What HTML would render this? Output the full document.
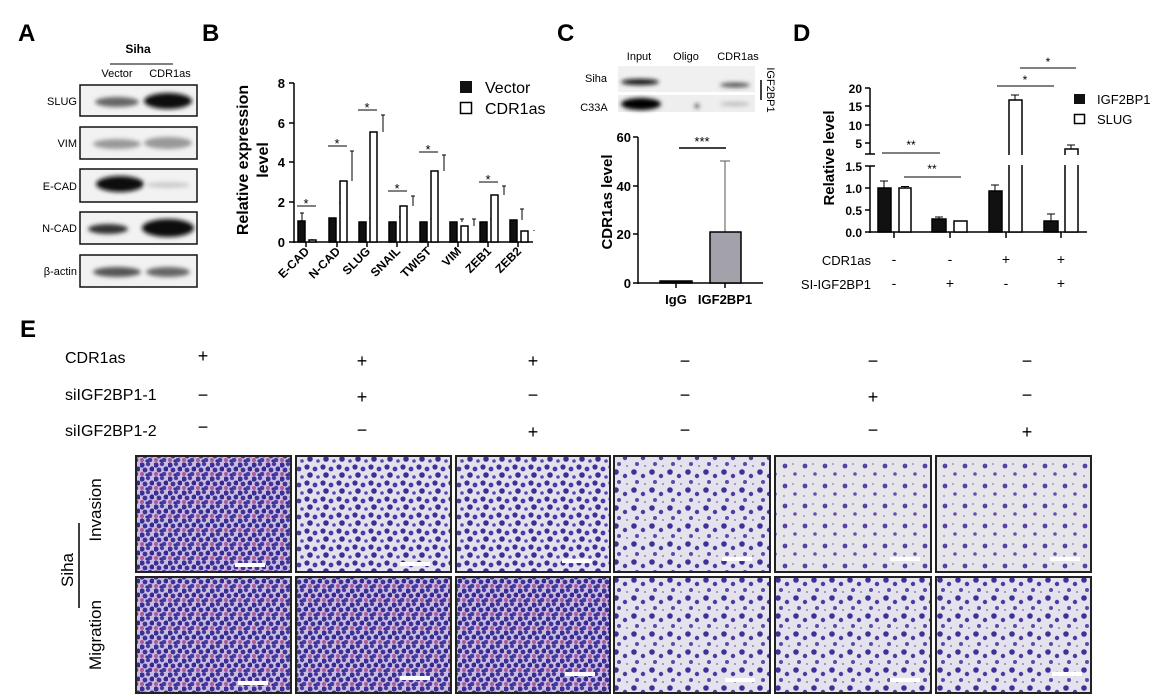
<!DOCTYPE html>
<html><head><meta charset="utf-8"><style>
html,body{margin:0;padding:0;background:#fff;}
svg{display:block;font-family:"Liberation Sans",Arial,sans-serif;}
.b{font-weight:bold;}
</style></head><body>
<svg width="1154" height="700" viewBox="0 0 1154 700" xmlns="http://www.w3.org/2000/svg">
<defs>
<filter id="bl" x="-20%" y="-50%" width="140%" height="200%"><feGaussianBlur stdDeviation="2"/></filter>
<pattern id="pd" width="14" height="14" patternUnits="userSpaceOnUse">
<rect width="14" height="14" fill="#cbbde0"/>
<circle cx="2" cy="3" r="2.6" fill="#3a2f95"/><circle cx="8" cy="2" r="2.2" fill="#4a3aa0"/>
<circle cx="12" cy="7" r="2.5" fill="#342a90"/><circle cx="5" cy="8" r="2.4" fill="#3f3398"/>
<circle cx="10" cy="12" r="2.3" fill="#4b3ca3"/><circle cx="2" cy="12" r="2" fill="#b05a9a"/>
<circle cx="7" cy="13" r="1.6" fill="#372d92"/>
</pattern>
<pattern id="pm" width="16" height="16" patternUnits="userSpaceOnUse">
<rect width="16" height="16" fill="#e4e0ee"/>
<circle cx="3" cy="3" r="2.6" fill="#3c3196"/><circle cx="11" cy="5" r="2.4" fill="#4a3ca2"/>
<circle cx="6" cy="11" r="2.8" fill="#3a2f95"/><circle cx="14" cy="13" r="1.8" fill="#5b4aab"/>
</pattern>
<pattern id="ps" width="20" height="20" patternUnits="userSpaceOnUse">
<rect width="20" height="20" fill="#e6e6ea"/>
<circle cx="5" cy="6" r="2.4" fill="#5a40a6"/><circle cx="15" cy="14" r="1.8" fill="#6a4db0"/>
<circle cx="13" cy="4" r="0.9" fill="#8a78bb"/><circle cx="4" cy="16" r="0.9" fill="#8a78bb"/>
</pattern>
<pattern id="pms" width="18" height="18" patternUnits="userSpaceOnUse">
<rect width="18" height="18" fill="#e4e2ec"/>
<circle cx="4" cy="4" r="2.8" fill="#3e3299"/><circle cx="13" cy="8" r="2.2" fill="#4a3ca2"/>
<circle cx="7" cy="14" r="2" fill="#5b4aab"/><circle cx="15" cy="16" r="1" fill="#b070a8"/>
</pattern>
</defs>

<!-- Panel A -->
<text x="18" y="41" font-size="24" class="b">A</text>
<text x="138" y="53" font-size="12" class="b" text-anchor="middle">Siha</text>
<line x1="110" y1="64" x2="173" y2="64" stroke="#000" stroke-width="1"/>
<text x="117" y="77" font-size="11" text-anchor="middle">Vector</text>
<text x="170" y="77" font-size="11" text-anchor="middle">CDR1as</text>
<g font-size="11" text-anchor="end">
<text x="77" y="105">SLUG</text><text x="77" y="147">VIM</text><text x="77" y="190">E-CAD</text><text x="77" y="232">N-CAD</text><text x="77" y="275">β-actin</text>
</g>
<g stroke="#111" stroke-width="1.5" fill="#f2f2f2">
<rect x="80" y="85" width="117" height="31"/><rect x="80" y="127" width="117" height="32"/>
<rect x="80" y="169" width="117" height="33"/><rect x="80" y="212" width="117" height="32"/><rect x="80" y="255" width="117" height="32"/>
</g>
<g filter="url(#bl)">
<ellipse cx="117" cy="102" rx="22" ry="5" fill="#666"/><ellipse cx="168" cy="101" rx="24" ry="8" fill="#111"/>
<ellipse cx="117" cy="144" rx="24" ry="5" fill="#999"/><ellipse cx="168" cy="143" rx="24" ry="6" fill="#999"/>
<ellipse cx="120" cy="184" rx="24" ry="8" fill="#111"/><ellipse cx="168" cy="185" rx="22" ry="3" fill="#ccc"/>
<ellipse cx="108" cy="229" rx="20" ry="5" fill="#333"/><ellipse cx="168" cy="228" rx="26" ry="9" fill="#111"/>
<ellipse cx="117" cy="272" rx="24" ry="5" fill="#555"/><ellipse cx="168" cy="272" rx="22" ry="5" fill="#666"/>
</g>

<!-- Panel B -->
<text x="202" y="41" font-size="24" class="b">B</text>
<g font-size="16" class="b" text-anchor="middle">
<text transform="translate(248,160) rotate(-90)">Relative expression</text>
<text transform="translate(268,160) rotate(-90)">level</text>
</g>
<g stroke="#000" stroke-width="1.5" fill="none">
<line x1="294" y1="83" x2="294" y2="243"/><line x1="294" y1="242" x2="533" y2="242"/>
<line x1="289" y1="83" x2="294" y2="83"/><line x1="289" y1="123" x2="294" y2="123"/><line x1="289" y1="162" x2="294" y2="162"/><line x1="289" y1="202" x2="294" y2="202"/><line x1="289" y1="242" x2="294" y2="242"/>
<line x1="306" y1="242" x2="306" y2="247"/><line x1="337" y1="242" x2="337" y2="247"/><line x1="367" y1="242" x2="367" y2="247"/><line x1="397" y1="242" x2="397" y2="247"/><line x1="428" y1="242" x2="428" y2="247"/><line x1="458" y1="242" x2="458" y2="247"/><line x1="488" y1="242" x2="488" y2="247"/><line x1="518" y1="242" x2="518" y2="247"/>
</g>
<g font-size="13" class="b" text-anchor="end">
<text x="285" y="88">8</text><text x="285" y="128">6</text><text x="285" y="167">4</text><text x="285" y="207">2</text><text x="285" y="247">0</text>
</g>
<g font-size="12" class="b" text-anchor="end">
<text transform="translate(310,252) rotate(-45)">E-CAD</text>
<text transform="translate(341,252) rotate(-45)">N-CAD</text>
<text transform="translate(371,252) rotate(-45)">SLUG</text>
<text transform="translate(401,252) rotate(-45)">SNAIL</text>
<text transform="translate(432,252) rotate(-45)">TWIST</text>
<text transform="translate(462,252) rotate(-45)">VIM</text>
<text transform="translate(492,252) rotate(-45)">ZEB1</text>
<text transform="translate(522,252) rotate(-45)">ZEB2</text>
</g>
<!-- error bars -->
<g stroke="#000" stroke-width="1">
<path d="M302 221V213M300 213h4M312 240V239M341 218V203M339 203h4M352 181V151M350 151h4M371 222V218M369 218h4M383 132V115M381 115h4M401 222V217M399 217h4M413 206V196M411 196h4M432 222V219M430 219h4M444 171V155M442 155h4M462 222V219M460 219h4M474 226V219M472 219h4M492 222V219M490 219h4M504 195V186M502 186h4M522 220V209M520 209h4M534 231V230"/>
</g>
<g stroke="#000" stroke-width="1.5">
<rect x="298" y="221" width="7" height="21" fill="#111"/><rect x="309" y="240" width="7" height="2" fill="#fff"/>
<rect x="329" y="218" width="7" height="24" fill="#111"/><rect x="340" y="181" width="7" height="61" fill="#fff"/>
<rect x="359" y="222" width="7" height="20" fill="#111"/><rect x="370" y="132" width="7" height="110" fill="#fff"/>
<rect x="389" y="222" width="7" height="20" fill="#111"/><rect x="400" y="206" width="7" height="36" fill="#fff"/>
<rect x="420" y="222" width="7" height="20" fill="#111"/><rect x="431" y="171" width="7" height="71" fill="#fff"/>
<rect x="450" y="222" width="7" height="20" fill="#111"/><rect x="461" y="226" width="7" height="16" fill="#fff"/>
<rect x="480" y="222" width="7" height="20" fill="#111"/><rect x="491" y="195" width="7" height="47" fill="#fff"/>
<rect x="510" y="220" width="7" height="22" fill="#111"/><rect x="521" y="231" width="7" height="11" fill="#fff"/>
</g>
<g stroke="#000" stroke-width="1">
<line x1="297" y1="206" x2="316" y2="206"/><line x1="328" y1="146" x2="347" y2="146"/><line x1="358" y1="110" x2="377" y2="110"/><line x1="388" y1="191" x2="407" y2="191"/><line x1="419" y1="152" x2="438" y2="152"/><line x1="479" y1="182" x2="498" y2="182"/>
</g>
<g font-size="13" text-anchor="middle">
<text x="306" y="208">*</text><text x="337" y="148">*</text><text x="367" y="112">*</text><text x="397" y="193">*</text><text x="428" y="154">*</text><text x="488" y="184">*</text>
</g>
<rect x="460" y="81" width="12" height="12" fill="#111"/>
<rect x="460.5" y="102.5" width="11" height="11" fill="#fff" stroke="#000" stroke-width="1.5"/>
<text x="485" y="93" font-size="16">Vector</text>
<text x="485" y="114" font-size="16">CDR1as</text>

<!-- Panel C -->
<text x="557" y="41" font-size="24" class="b">C</text>
<g font-size="11" text-anchor="middle">
<text x="639" y="60">Input</text><text x="686" y="60">Oligo</text><text x="738" y="60">CDR1as</text>
</g>
<text x="596" y="82" font-size="11" text-anchor="middle">Siha</text>
<text x="594" y="111" font-size="11" text-anchor="middle">C33A</text>
<rect x="618" y="66" width="137" height="26" fill="#f0f0f0"/>
<rect x="618" y="95" width="137" height="17" fill="#eeeeee"/>
<g filter="url(#bl)">
<ellipse cx="640" cy="82" rx="19" ry="3" fill="#111"/><ellipse cx="735" cy="85" rx="15" ry="2.5" fill="#555"/>
<ellipse cx="641" cy="104" rx="20" ry="6" fill="#000"/><ellipse cx="697" cy="106" rx="2" ry="2" fill="#222"/><ellipse cx="735" cy="104" rx="15" ry="2" fill="#bbb"/>
</g>
<line x1="761" y1="80" x2="761" y2="100" stroke="#000" stroke-width="1.5"/>
<text transform="translate(767,90) rotate(90)" font-size="11" text-anchor="middle">IGF2BP1</text>
<text transform="translate(612,202) rotate(-90)" font-size="15" class="b" text-anchor="middle">CDR1as level</text>
<g stroke="#000" stroke-width="1.5" fill="none">
<line x1="638" y1="137" x2="638" y2="284"/><line x1="638" y1="283" x2="763" y2="283"/>
<line x1="633" y1="137" x2="638" y2="137"/><line x1="633" y1="186" x2="638" y2="186"/><line x1="633" y1="234" x2="638" y2="234"/><line x1="633" y1="283" x2="638" y2="283"/>
<line x1="676" y1="283" x2="676" y2="288"/><line x1="725" y1="283" x2="725" y2="288"/>
</g>
<g font-size="13" class="b" text-anchor="end">
<text x="631" y="142">60</text><text x="631" y="191">40</text><text x="631" y="239">20</text><text x="631" y="288">0</text>
</g>
<line x1="725" y1="232" x2="725" y2="161" stroke="#555" stroke-width="1"/><line x1="720" y1="161" x2="730" y2="161" stroke="#555" stroke-width="1"/>
<rect x="660" y="281" width="32" height="2" fill="#111" stroke="#000" stroke-width="1.5"/>
<rect x="710" y="232" width="31" height="51" fill="#a3a2aa" stroke="#000" stroke-width="1.5"/>
<line x1="679" y1="148" x2="726" y2="148" stroke="#000" stroke-width="1.5"/>
<text x="702" y="146" font-size="13" text-anchor="middle">***</text>
<text x="676" y="304" font-size="13" class="b" text-anchor="middle">IgG</text>
<text x="725" y="304" font-size="13" class="b" text-anchor="middle">IGF2BP1</text>

<!-- Panel D -->
<text x="793" y="41" font-size="24" class="b">D</text>
<text transform="translate(834,158) rotate(-90)" font-size="15" class="b" text-anchor="middle">Relative level</text>
<g stroke="#000" stroke-width="1.5" fill="none">
<line x1="870" y1="88" x2="870" y2="154"/><line x1="870" y1="166" x2="870" y2="233"/>
<line x1="865" y1="154" x2="875" y2="154"/><line x1="865" y1="166" x2="875" y2="166"/>
<line x1="865" y1="88" x2="870" y2="88"/><line x1="865" y1="106" x2="870" y2="106"/><line x1="865" y1="125" x2="870" y2="125"/><line x1="865" y1="143" x2="870" y2="143"/>
<line x1="865" y1="188" x2="870" y2="188"/><line x1="865" y1="210" x2="870" y2="210"/><line x1="865" y1="232" x2="870" y2="232"/>
<line x1="870" y1="232" x2="1087" y2="232"/>
<line x1="894" y1="232" x2="894" y2="238"/><line x1="950" y1="232" x2="950" y2="238"/><line x1="1006" y1="232" x2="1006" y2="238"/><line x1="1061" y1="232" x2="1061" y2="238"/>
</g>
<g font-size="12" class="b" text-anchor="end">
<text x="862" y="93">20</text><text x="862" y="111">15</text><text x="862" y="130">10</text><text x="862" y="148">5</text>
<text x="862" y="171">1.5</text><text x="862" y="193">1.0</text><text x="862" y="215">0.5</text><text x="862" y="237">0.0</text>
</g>
<g stroke="#000" stroke-width="1">
<path d="M884 188V181M880 181h8M905 188V186.5M901 186.5h8M939 219V217M935 217h8M995 191V185M991 185h8M1015 100V95M1011 95h8M1051 221V214M1047 214h8M1071 149V145M1067 145h8"/>
</g>
<g stroke="#000" stroke-width="1.5">
<rect x="878" y="188" width="13" height="44" fill="#111"/><rect x="899" y="188" width="12" height="44" fill="#fff"/>
<rect x="932" y="219" width="14" height="13" fill="#111"/><rect x="954" y="221" width="13" height="11" fill="#fff"/>
<rect x="989" y="191" width="13" height="41" fill="#111"/><rect x="1009" y="100" width="13" height="132" fill="#fff"/>
<rect x="1044" y="221" width="14" height="11" fill="#111"/><rect x="1065" y="149" width="13" height="83" fill="#fff"/>
</g>
<rect x="1008" y="155" width="15" height="10" fill="#fff"/>
<rect x="1064" y="155" width="15" height="10" fill="#fff"/>
<g stroke="#000" stroke-width="1">
<line x1="882" y1="153" x2="940" y2="153"/><line x1="904" y1="177" x2="961" y2="177"/>
<line x1="997" y1="86" x2="1054" y2="86"/><line x1="1020" y1="68" x2="1076" y2="68"/>
</g>
<g font-size="12" text-anchor="middle">
<text x="911" y="149">**</text><text x="932" y="173">**</text><text x="1025" y="84">*</text><text x="1048" y="66">*</text>
</g>
<rect x="1074" y="94" width="11" height="10" fill="#111"/>
<rect x="1074.5" y="114.5" width="10" height="9" fill="#fff" stroke="#000" stroke-width="1.5"/>
<text x="1097" y="104" font-size="13">IGF2BP1</text>
<text x="1097" y="124" font-size="13">SLUG</text>
<text x="871" y="265" font-size="13" text-anchor="end">CDR1as</text>
<text x="871" y="289" font-size="13" text-anchor="end">SI-IGF2BP1</text>
<g font-size="14" text-anchor="middle">
<text x="894" y="264">-</text><text x="950" y="264">-</text><text x="1006" y="264">+</text><text x="1061" y="264">+</text>
<text x="894" y="288">-</text><text x="950" y="288">+</text><text x="1006" y="288">-</text><text x="1061" y="288">+</text>
</g>

<!-- Panel E -->
<text x="20" y="337" font-size="24" class="b">E</text>
<g font-size="16">
<text x="65" y="363">CDR1as</text><text x="65" y="400">siIGF2BP1-1</text><text x="65" y="436">siIGF2BP1-2</text>
</g>
<g font-size="18" text-anchor="middle">
<text x="203" y="362">+</text><text x="362" y="367">+</text><text x="533" y="367">+</text><text x="685" y="367">−</text><text x="873" y="367">−</text><text x="1027" y="367">−</text>
<text x="203" y="401">−</text><text x="362" y="403">+</text><text x="533" y="401">−</text><text x="685" y="401">−</text><text x="873" y="403">+</text><text x="1027" y="401">−</text>
<text x="203" y="433">−</text><text x="362" y="436">−</text><text x="533" y="438">+</text><text x="685" y="436">−</text><text x="873" y="436">−</text><text x="1027" y="438">+</text>
</g>
<g font-size="17" text-anchor="middle">
<text transform="translate(101,510) rotate(-90)">Invasion</text>
<text transform="translate(101,635) rotate(-90)">Migration</text>
<text transform="translate(73,570) rotate(-90)">Siha</text>
</g>
<line x1="79" y1="523" x2="79" y2="608" stroke="#000" stroke-width="1.5"/>
<g stroke="#222" stroke-width="2">
<rect x="136" y="456" width="155" height="116" fill="url(#pd)"/>
<rect x="296" y="456" width="155" height="116" fill="url(#pm)"/>
<rect x="456" y="456" width="154" height="116" fill="url(#pm)"/>
<rect x="614" y="456" width="156" height="116" fill="url(#pms)"/>
<rect x="775" y="456" width="156" height="116" fill="url(#ps)"/>
<rect x="936" y="456" width="155" height="116" fill="url(#ps)"/>
<rect x="136" y="577" width="155" height="116" fill="url(#pd)"/>
<rect x="296" y="577" width="155" height="116" fill="url(#pd)"/>
<rect x="456" y="577" width="154" height="116" fill="url(#pd)"/>
<rect x="614" y="577" width="156" height="116" fill="url(#pms)"/>
<rect x="775" y="577" width="156" height="116" fill="url(#pms)"/>
<rect x="936" y="577" width="155" height="116" fill="url(#pms)"/>
</g>
<g fill="#fff">
<rect x="235" y="563" width="30" height="4"/><rect x="400" y="562" width="30" height="4"/><rect x="562" y="559" width="30" height="4"/>
<rect x="722" y="557" width="30" height="4"/><rect x="890" y="557" width="30" height="4"/><rect x="1050" y="557" width="30" height="4"/>
<rect x="238" y="681" width="30" height="4"/><rect x="400" y="676" width="30" height="4"/><rect x="565" y="672" width="30" height="4"/>
<rect x="725" y="678" width="30" height="4"/><rect x="890" y="678" width="30" height="4"/><rect x="1052" y="672" width="30" height="4"/>
</g>
</svg>
</body></html>
